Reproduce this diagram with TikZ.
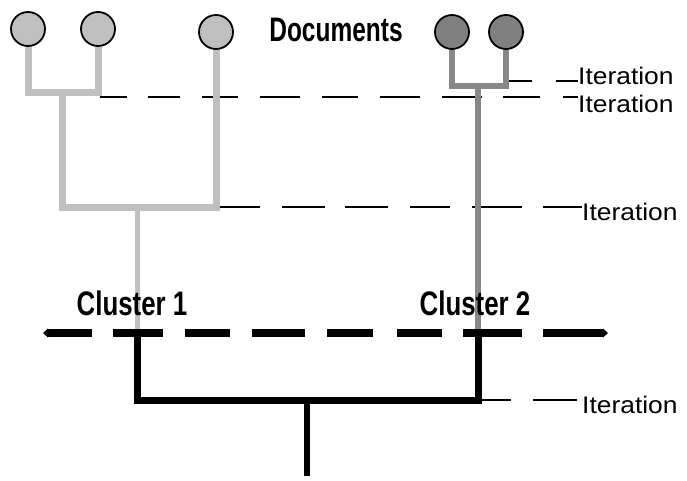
\documentclass[tikz,border=0pt]{standalone}
\usepackage{fontspec}
\setmainfont{Liberation Sans}
\definecolor{lg}{HTML}{C0C0C0}
\definecolor{dg}{HTML}{808080}
\definecolor{dgl}{HTML}{888888}
\begin{document}
\begin{tikzpicture}[x=1pt,y=-1pt,
  doc/.style={circle,draw=black,line width=1.8pt,minimum size=34pt,inner sep=0pt},
  lightline/.style={lg,line width=7pt},
  darkline/.style={dgl,line width=6pt},
  blackline/.style={black,line width=7pt},
  guide/.style={black,line width=1.8pt},
  iter/.style={anchor=west,inner sep=0pt,font=\fontsize{24}{24}\selectfont},
  bold/.style={inner sep=0pt,font=\bfseries\fontsize{34}{34}\selectfont}
]
\useasboundingbox (0,0) rectangle (687,480);

% documents
\node[doc,fill=lg] (d1) at (28,29) {};
\node[doc,fill=lg] (d2) at (98,29) {};
\node[doc,fill=lg] (d3) at (216,32) {};
\node[doc,fill=dg] (d4) at (452,32) {};
\node[doc,fill=dg] (d5) at (506,32) {};

% junction coordinates
\coordinate (j1) at (62,92);
\coordinate (j2) at (137,207);
\coordinate (j3) at (478,86);
\coordinate (c1) at (137,333);
\coordinate (c2) at (478,333);
\coordinate (b) at (307,400);
\coordinate (root) at (307,476);

% iteration labels
\node[iter] (it1) at (578,76) {\scalebox{1.1}[1]{Iteration}};
\node[iter] (it2) at (578,104) {\scalebox{1.1}[1]{Iteration}};
\node[iter] (it3) at (582,212) {\scalebox{1.1}[1]{Iteration}};
\node[iter] (it4) at (582,405) {\scalebox{1.1}[1]{Iteration}};

% guide lines
\coordinate (g1) at (508,81);
\coordinate (g2) at (100,97);
\coordinate (g3) at (218,207);
\coordinate (g4) at (482,400);
\draw[guide,dash pattern=on 24pt off 24pt] (g1) -- (g1 -| it1.west);
\draw[guide,dash pattern=on 27pt off 21pt on 32pt off 22pt on 36pt off 22pt on 40pt off 22pt on 36pt off 22pt on 40pt off 22pt on 40pt off 21pt on 37pt off 23pt on 40pt off 20pt] (g2) -- (g2 -| it2.west);
\draw[guide,dash pattern=on 42pt off 22pt on 43pt off 20pt on 43pt off 22pt on 40pt off 22pt on 50pt off 21pt on 60pt off 10pt] (g3) -- (g3 -| it3.west);
\draw[guide,dash pattern=on 29pt off 22pt on 44pt off 5pt] (g4) -- (g4 -| it4.west);

% light tree
\draw[lightline] (d1.south) |- (j1) -| (d2.south);
\draw[lightline] (j1) |- (j2) -| (d3.south);
\draw[lg,line width=5pt] (j2) -- (c1);

% dark tree
\draw[darkline] (d4.south) |- (j3) -| (d5.south);
\draw[darkline] (j3) -- (c2);

% bottom tree
\draw[blackline] (c1) |- (b) -| (c2);
\draw[black,line width=6pt] (b) -- (root);

% cluster separator
\coordinate (sl) at (48,333);
\coordinate (sr) at (603,333);
\draw[black,line width=8pt,dash pattern=on 44pt off 21pt on 50pt off 22pt on 45pt off 22pt on 53pt off 22pt on 46pt off 24pt on 45pt off 21pt on 59pt off 21pt on 60pt off 10pt] (sl) -- (sr);
\fill (sl) ++(-5,0) -- ++(5,-4.5) -- ++(0,9) -- cycle;
\fill (sr) ++(5,0) -- ++(-5,-4.5) -- ++(0,9) -- cycle;

% labels
\node[bold] (doc) at (336,30) {\scalebox{0.72}[1]{Documents}};
\node[bold] (cl1) at (132,303) {\scalebox{0.76}[1]{Cluster 1}};
\node[bold] (cl2) at (475,303) {\scalebox{0.76}[1]{Cluster 2}};
\end{tikzpicture}
\end{document}
